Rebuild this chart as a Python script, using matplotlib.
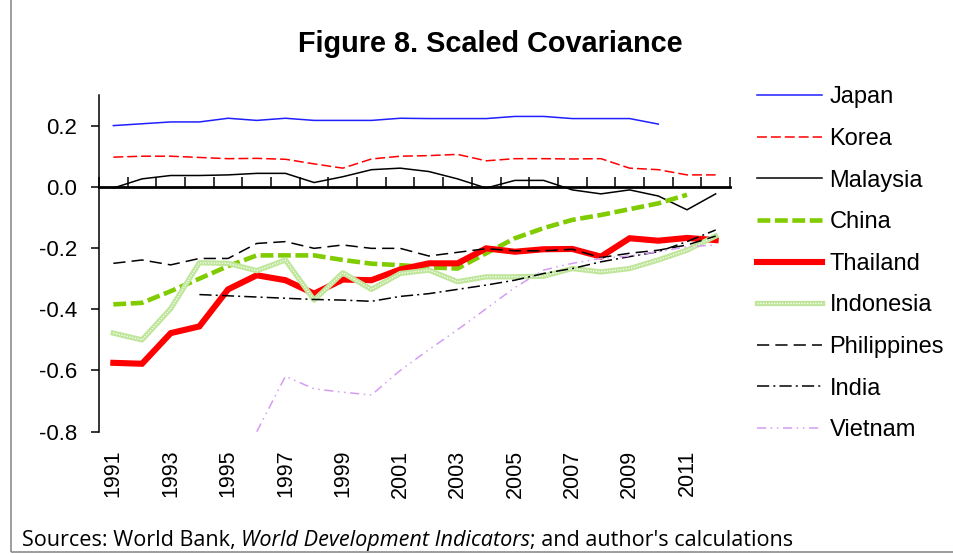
import numpy as np
import matplotlib
matplotlib.use("Agg")
import matplotlib.pyplot as plt
from matplotlib.patches import Rectangle

plt.rcParams["font.family"] = ["Liberation Sans", "DejaVu Sans"]

nan = np.nan
years = list(range(1991, 2013))
tick_years = [str(y) for y in years[::2]]

japan = [0.200, 0.206, 0.212, 0.212, 0.224, 0.217, 0.224, 0.217, 0.217, 0.217, 0.224,
         0.223, 0.223, 0.223, 0.230, 0.230, 0.223, 0.223, 0.223, 0.205, nan, nan]
korea = [0.097, 0.100, 0.100, 0.096, 0.092, 0.093, 0.090, 0.075, 0.061, 0.091, 0.100,
         0.102, 0.106, 0.085, 0.092, 0.092, 0.091, 0.092, 0.061, 0.056, 0.039, 0.039]
malaysia = [-0.004, 0.026, 0.037, 0.037, 0.039, 0.044, 0.044, 0.014, 0.033, 0.056, 0.061,
            0.050, 0.026, -0.004, 0.021, 0.021, -0.010, -0.023, -0.010, -0.030, -0.075, -0.023]
china = [-0.384, -0.379, -0.341, -0.300, -0.259, -0.224, -0.224, -0.224, -0.239, -0.251, -0.256,
         -0.263, -0.267, -0.217, -0.168, -0.135, -0.108, -0.092, -0.073, -0.054, -0.026, nan]
thailand = [-0.575, -0.578, -0.478, -0.456, -0.335, -0.289, -0.305, -0.349, -0.303, -0.305, -0.270,
            -0.250, -0.250, -0.201, -0.212, -0.204, -0.203, -0.228, -0.168, -0.176, -0.167, -0.174]
indonesia = [-0.478, -0.500, -0.398, -0.248, -0.250, -0.274, -0.239, -0.370, -0.281, -0.335, -0.283,
             -0.272, -0.310, -0.294, -0.294, -0.292, -0.267, -0.278, -0.267, -0.239, -0.207, -0.161]
philippines = [-0.250, -0.239, -0.255, -0.234, -0.234, -0.185, -0.179, -0.201, -0.190, -0.201, -0.201,
               -0.226, -0.214, -0.202, -0.209, -0.209, -0.204, -0.231, -0.217, -0.207, -0.190, -0.161]
india = [nan, nan, nan, -0.352, -0.356, -0.360, -0.364, -0.368, -0.370, -0.374, -0.358,
         -0.349, -0.335, -0.321, -0.305, -0.283, -0.267, -0.245, -0.228, -0.212, -0.179, -0.141]
vietnam = [nan, nan, nan, nan, nan, -0.800, -0.619, -0.660, -0.671, -0.680, -0.600,
           -0.532, -0.467, -0.398, -0.329, -0.272, -0.250, -0.234, -0.226, -0.212, -0.196, -0.190]

fig = plt.figure(figsize=(9.54, 5.54), dpi=100)
ax = fig.add_axes([99 / 954, 1 - 431.7 / 554, 631 / 954, (431.7 - 95) / 554])
x = np.arange(len(years))

l_jp, = ax.plot(x, japan, color="#1f1fff", lw=1.1)
l_kr, = ax.plot(x, korea, color="#ff0000", lw=1.1, ls=(0, (6.5, 2.6)))
l_my, = ax.plot(x, malaysia, color="black", lw=1.1)
l_cn, = ax.plot(x, china, color="#80cc00", lw=3.3, ls=(0, (2.8, 1.0)))
l_th, = ax.plot(x, thailand, color="#ff0000", lw=4.4, solid_joinstyle="miter")
l_id, = ax.plot(x, indonesia, color="#bfe69a", lw=3.8)
l_id2, = ax.plot(x, indonesia, color="white", lw=0.9, ls=(0, (1, 1.2)))
l_ph, = ax.plot(x, philippines, color="black", lw=1.1, ls=(0, (8, 4)))
l_in, = ax.plot(x, india, color="black", lw=1.1, ls=(0, (8, 2.7, 1.3, 2.7)))
l_vn, = ax.plot(x, vietnam, color="#d59cf5", lw=1.1, ls=(0, (6, 3, 1, 3, 1, 3)))

ax.set_xlim(-0.5, len(years) - 0.5)
ax.set_ylim(-0.8, 0.3)
ax.set_yticks([-0.8, -0.6, -0.4, -0.2, 0.0, 0.2])
ax.set_yticklabels(["-0.8", "-0.6", "-0.4", "-0.2", "0.0", "0.2"])
ax.tick_params(axis="y", direction="out", length=6, width=1.1, labelsize=16, pad=10)

ax.set_xticks(x[::2])
ax.set_xticklabels(tick_years, rotation=90, va="top", ha="center")
ax.tick_params(axis="x", length=0, labelsize=15.5, pad=13)

for s in ["top", "right", "bottom"]:
    ax.spines[s].set_visible(False)
ax.spines["left"].set_linewidth(1.1)

# category axis crossing at zero
zero_ax = ax.secondary_xaxis(0, transform=ax.transData)
zero_ax.set_xticks(np.arange(-0.5, len(years), 1))
zero_ax.tick_params(direction="in", length=7, width=1.1, labelbottom=False)
zero_ax.spines["bottom"].set_linewidth(2.0)

handles = [l_jp, l_kr, l_my, l_cn, l_th, (l_id, l_id2), l_ph, l_in, l_vn]
labels = ["Japan", "Korea", "Malaysia", "China", "Thailand", "Indonesia",
          "Philippines", "India", "Vietnam"]
fig.legend(handles, labels, loc="upper left", bbox_to_anchor=(748 / 954, 1 - 77 / 554),
           frameon=False, fontsize=17, handlelength=2.75, handletextpad=0.3,
           labelspacing=0.83, borderaxespad=0)

fig.text(490 / 954, 1 - 44 / 554, "Figure 8. Scaled Covariance", ha="center", va="center",
         fontsize=20.8, fontweight="bold")

# source note with italic part
fig.canvas.draw()
r = fig.canvas.get_renderer()
sx, sy = 22 / 954, 1 - 546 / 554
parts = [("Sources: World Bank, ", "normal"), ("World Development Indicators", "italic"),
         ("; and author's calculations", "normal")]
for txt, style in parts:
    t = fig.text(sx, sy, txt, fontsize=15.6, style=style, family="Open Sans", va="baseline")
    bb = t.get_window_extent(r)
    sx += bb.width / fig.bbox.width

fig.patches.append(Rectangle((11 / 954, 2 / 554), 2, 2, transform=fig.transFigure,
                             fill=False, edgecolor="#8c8c8c", lw=1.2))

fig.savefig("out.png", dpi=100)
